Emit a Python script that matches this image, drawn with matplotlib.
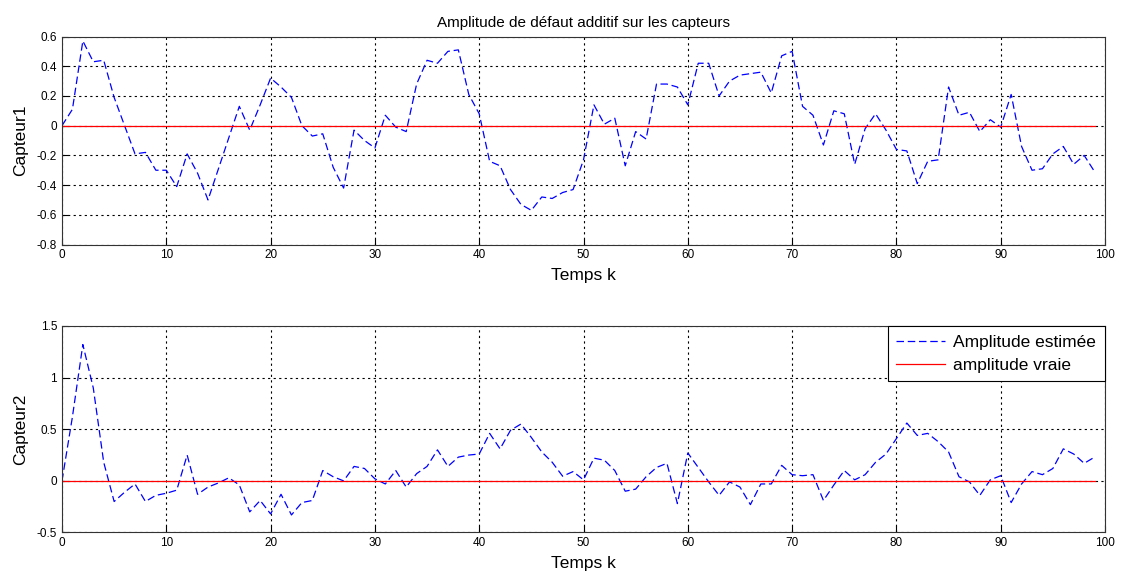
import numpy as np
import matplotlib
matplotlib.use('Agg')
import matplotlib.pyplot as plt

plt.rcParams['font.family'] = ['Liberation Sans', 'DejaVu Sans']

# time index
k = np.arange(100)

# estimated additive fault amplitude, sensor 1
capteur1 = [0.0, 0.11, 0.57, 0.43, 0.44, 0.19, 0.0, -0.19, -0.18, -0.30,
            -0.30, -0.41, -0.19, -0.32, -0.50, -0.29, -0.08, 0.13, -0.03, 0.14,
            0.32, 0.26, 0.19, 0.0, -0.07, -0.055, -0.28, -0.42, -0.03, -0.10,
            -0.15, 0.07, -0.01, -0.04, 0.28, 0.44, 0.42, 0.50, 0.51, 0.21,
            0.08, -0.24, -0.27, -0.43, -0.53, -0.57, -0.48, -0.49, -0.45, -0.43,
            -0.23, 0.14, 0.01, 0.05, -0.27, -0.04, -0.09, 0.28, 0.28, 0.26,
            0.14, 0.42, 0.42, 0.20, 0.30, 0.34, 0.35, 0.36, 0.22, 0.47,
            0.50, 0.13, 0.07, -0.13, 0.10, 0.08, -0.26, -0.02, 0.08, -0.03,
            -0.16, -0.17, -0.39, -0.24, -0.23, 0.26, 0.07, 0.09, -0.04, 0.04,
            -0.01, 0.21, -0.14, -0.30, -0.29, -0.19, -0.14, -0.26, -0.20, -0.31]

# estimated additive fault amplitude, sensor 2
capteur2 = [0.0, 0.62, 1.32, 0.90, 0.18, -0.20, -0.11, -0.03, -0.20, -0.14,
            -0.12, -0.09, 0.25, -0.13, -0.06, -0.02, 0.03, -0.04, -0.30, -0.19,
            -0.32, -0.13, -0.33, -0.21, -0.19, 0.10, 0.04, 0.0, 0.14, 0.12,
            0.02, -0.03, 0.10, -0.06, 0.07, 0.14, 0.30, 0.14, 0.23, 0.25,
            0.26, 0.46, 0.31, 0.49, 0.55, 0.42, 0.28, 0.18, 0.045, 0.09,
            0.01, 0.22, 0.20, 0.10, -0.10, -0.08, 0.04, 0.13, 0.17, -0.22,
            0.27, 0.13, -0.01, -0.14, -0.01, -0.06, -0.23, -0.03, -0.03, 0.15,
            0.06, 0.05, 0.06, -0.19, -0.04, 0.10, 0.01, 0.06, 0.18, 0.26,
            0.41, 0.56, 0.44, 0.46, 0.38, 0.28, 0.04, -0.01, -0.14, 0.01,
            0.05, -0.21, -0.03, 0.09, 0.06, 0.12, 0.31, 0.26, 0.17, 0.23]

# true amplitude (no fault)
vraie = np.zeros(100)

fig = plt.figure(figsize=(11.23, 5.74), dpi=100)
ax1 = fig.add_axes([0.0552, 0.5740, 0.9288, 0.3624])
ax2 = fig.add_axes([0.0552, 0.0723, 0.9288, 0.3598])

for ax, y, ylab, ylim, yt in [
        (ax1, capteur1, 'Capteur1', (-0.8, 0.6), [-0.8, -0.6, -0.4, -0.2, 0, 0.2, 0.4, 0.6]),
        (ax2, capteur2, 'Capteur2', (-0.5, 1.5), [-0.5, 0, 0.5, 1, 1.5])]:
    ax.plot(k, y, color='#0000ff', linestyle=(0, (6, 3)), linewidth=0.9,
            label='Amplitude estimée')
    ax.plot(k, vraie, color='#ff0000', linewidth=0.9, label='amplitude vraie')
    ax.set_xlim(0, 100)
    ax.set_ylim(*ylim)
    ax.set_xticks(np.arange(0, 101, 10))
    ax.set_yticks(yt)
    ax.set_yticklabels(['%g' % v for v in yt])
    ax.grid(True, color='black', linestyle=(0, (2, 3)), linewidth=0.8)
    ax.tick_params(direction='in', labelsize=8.5, length=4, colors='black')
    for sp in ax.spines.values():
        sp.set_color('#333333')
        sp.set_linewidth(0.8)
    ax.set_xlabel('Temps k', fontsize=12.5, labelpad=5)
    ax.set_ylabel(ylab, fontsize=12.5, labelpad=6)

ax1.set_title('Amplitude de défaut additif sur les capteurs', fontsize=11, pad=7)

leg = ax2.legend(loc='upper right', fontsize=12.5, fancybox=False, framealpha=1,
                 edgecolor='black', borderaxespad=0.0, handlelength=2.8,
                 borderpad=0.5, labelspacing=0.45, handletextpad=0.5)
leg.get_frame().set_linewidth(0.8)

plt.savefig('out.png', dpi=100)
